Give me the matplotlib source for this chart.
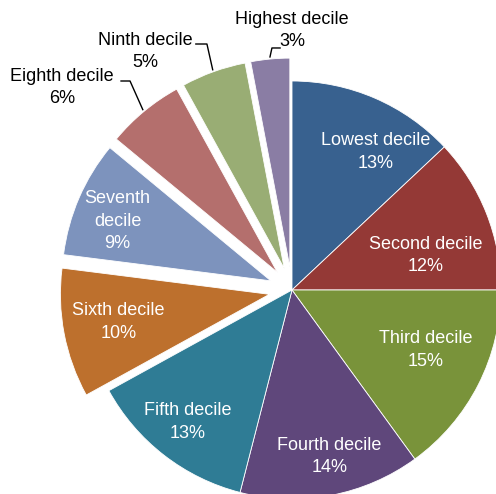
import matplotlib.pyplot as plt
import numpy as np

plt.rcParams['font.family'] = ['Liberation Sans', 'DejaVu Sans']

deciles = ['Lowest decile', 'Second decile', 'Third decile', 'Fourth decile',
           'Fifth decile', 'Sixth decile', 'Seventh\ndecile', 'Eighth decile',
           'Ninth decile', 'Highest decile']
shares = [13, 12, 15, 14, 13, 10, 9, 6, 5, 3]
explodes = [0, 0, 0, 0, 0, 0.11, 0.11, 0.11, 0.11, 0.11]
colors = ['#38618F', '#943936', '#79933A', '#5F477B', '#2F7C95',
          '#BD702D', '#7D93BD', '#B46F6D', '#99AD74', '#8A7DA4']

# label centres (data units, pie radius = 1)
label_pos = [(0.40, 0.66), (0.64, 0.165), (0.64, -0.287), (0.18, -0.795),
             (-0.50, -0.632), (-0.83, -0.153), (-0.835, 0.33),
             (-1.10, 0.967), (-0.70, 1.142), (0.0, 1.24)]
# outside labels: leader start and elbow
leaders = {7: [(-0.818, 1.0), (-0.775, 1.0)],
           8: [(-0.460, 1.177), (-0.407, 1.177)],
           9: [(-0.057, 1.158), (-0.096, 1.158)]}

fig = plt.figure(figsize=(4.96, 4.94), dpi=100)
ax = fig.add_axes([0, 0, 1, 1])
wedges, _ = ax.pie(shares, explode=explodes, colors=colors, startangle=90,
                   counterclock=False, radius=1,
                   wedgeprops=dict(linewidth=0.6, edgecolor='white'))

for i, (name, val) in enumerate(zip(deciles, shares)):
    x, y = label_pos[i]
    col = 'black' if i in leaders else 'white'
    ax.text(x, y, f'{name}\n{val}%', ha='center', va='center', fontsize=13,
            color=col, linespacing=1.4)

for i, pts in leaders.items():
    w = wedges[i]
    mid = np.deg2rad((w.theta1 + w.theta2) / 2)
    r = 1 + explodes[i] + 0.01
    end = (r * np.cos(mid), r * np.sin(mid))
    xs = [pts[0][0], pts[1][0], end[0]]
    ys = [pts[0][1], pts[1][1], end[1]]
    ax.plot(xs, ys, color='black', lw=1)

ax.set_xlim(-292 / 209, (496 - 292) / 209)
ax.set_ylim(-(494 - 290) / 209, 290 / 209)
ax.set_aspect('equal')
ax.axis('off')

plt.savefig('out.png', dpi=100)
